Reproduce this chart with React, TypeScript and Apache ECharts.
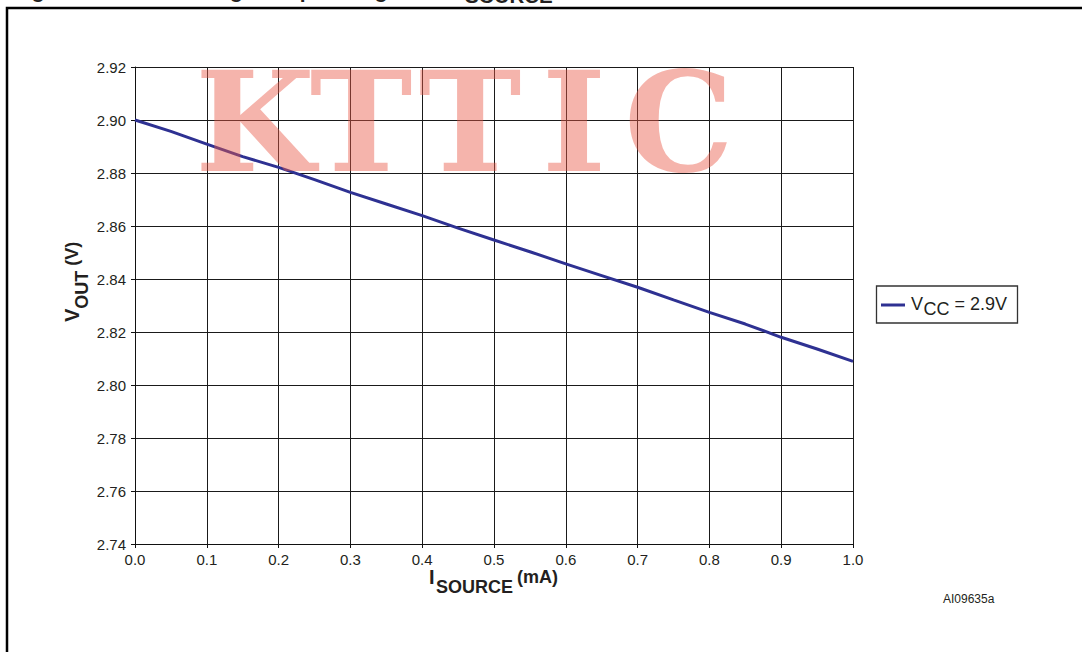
import React, { useEffect, useRef } from "react";
import * as echarts from "echarts";

const isource = [0, 0.05, 0.1, 0.15, 0.2, 0.25, 0.3, 0.35, 0.4, 0.45, 0.5, 0.55, 0.6, 0.65, 0.7, 0.75, 0.8, 0.85, 0.9, 0.95, 1.0];
const vout = [2.9, 2.8957, 2.8909, 2.8862, 2.8821, 2.8775, 2.8727, 2.8683, 2.8639, 2.8592, 2.8547, 2.8503, 2.8457, 2.8413, 2.8369, 2.8321, 2.8274, 2.823, 2.818, 2.8136, 2.8089];
const seriesName = "VCC = 2.9V";
const yMin = 2.74;
const yMax = 2.92;
const yStep = 0.02;
const xMin = 0;
const xMax = 1;
const xStep = 0.1;
const watermarkLetters = ["K", "T", "T", "I", "C"];

const SANS = "'Liberation Sans', Arial, Helvetica, sans-serif";
const LINE_COLOR = "#2e3192";
const TEXT_COLOR = "#231f20";

function txt(text: string, x: number, y: number, size: number, bold: boolean, extra: any = {}) {
  return {
    type: "text",
    x,
    y,
    z: 50,
    silent: true,
    ...extra,
    style: {
      text,
      font: `${bold ? "bold " : ""}${size}px ${SANS}`,
      fill: TEXT_COLOR,
      textAlign: "left",
      textVerticalAlign: "middle",
      align: "left",
      verticalAlign: "middle",
    },
  };
}

export default function App() {
  const ref = useRef<HTMLDivElement>(null);
  useEffect(() => {
    if (!ref.current) return;
    const chart = echarts.init(ref.current, undefined, { renderer: "svg" });
    const data = isource.map((x, i) => [x, vout[i]]);
    const wmCenters = [255, 361, 470, 574, 679];
    const watermark = watermarkLetters.map((ch, i) => ({
      type: "text",
      x: wmCenters[i],
      y: 122,
      z: 100,
      silent: true,
      style: {
        text: ch,
        font: "bold 138px 'DejaVu Serif', 'Courier New', serif",
        fill: "rgba(233,88,71,0.45)",
        textAlign: "center",
        textVerticalAlign: "middle",
        align: "center",
        verticalAlign: "middle",
      },
    }));
    chart.setOption({
      animation: false,
      backgroundColor: "#ffffff",
      grid: { left: 135, right: 229, top: 67, bottom: 108, containLabel: false },
      xAxis: {
        type: "value",
        min: xMin,
        max: xMax,
        interval: xStep,
        axisLine: { show: true, lineStyle: { color: "#111", width: 1 } },
        axisTick: { show: true, length: 4, inside: false, lineStyle: { color: "#111" } },
        axisLabel: {
          margin: 8,
          fontSize: 15,
          fontFamily: SANS,
          color: TEXT_COLOR,
          formatter: (v: number) => v.toFixed(1),
        },
        splitLine: { show: true, lineStyle: { color: "#1a1a1a", width: 1 } },
      },
      yAxis: {
        type: "value",
        min: yMin,
        max: yMax,
        interval: yStep,
        axisLine: { show: true, lineStyle: { color: "#111", width: 1 } },
        axisTick: { show: true, length: 4, inside: false, lineStyle: { color: "#111" } },
        axisLabel: {
          margin: 9,
          fontSize: 15,
          fontFamily: SANS,
          color: TEXT_COLOR,
          formatter: (v: number) => v.toFixed(2),
        },
        splitLine: { show: true, lineStyle: { color: "#1a1a1a", width: 1 } },
      },
      series: [
        {
          name: seriesName,
          type: "line",
          data,
          showSymbol: false,
          symbol: "none",
          lineStyle: { color: LINE_COLOR, width: 3 },
          itemStyle: { color: LINE_COLOR },
          z: 3,
        },
      ],
      graphic: [
        {
          type: "rect",
          z: 1,
          silent: true,
          shape: { x: 7, y: 8, width: 1300, height: 900 },
          style: { fill: "none", stroke: "#000", lineWidth: 2.5 },
        },
        // cropped caption at the top
        txt("Figure 10. Reset voltage", 13, -10, 21, true),
        txt("output", 267, -10, 21, true),
        txt("against I", 363, -10, 21, true),
        txt("SOURCE", 465, -5, 20.5, true),
        // y axis title
        txt("V", 72, 322, 20, true, { rotation: Math.PI / 2 }),
        txt("OUT", 82, 308.7, 18, true, { rotation: Math.PI / 2 }),
        txt(" (V)", 72, 270.7, 18, true, { rotation: Math.PI / 2 }),
        // x axis title
        txt("I", 429, 577, 20, true),
        txt("SOURCE", 436, 587, 18, true),
        txt("(mA)", 517, 577, 18, true),
        // legend
        {
          type: "rect",
          z: 40,
          silent: true,
          shape: { x: 876.5, y: 286, width: 141, height: 37 },
          style: { fill: "#fff", stroke: "#333", lineWidth: 1.3 },
        },
        {
          type: "line",
          z: 41,
          silent: true,
          shape: { x1: 881, y1: 305, x2: 905, y2: 305 },
          style: { stroke: LINE_COLOR, lineWidth: 3 },
        },
        txt("V", 911, 303.5, 18, false),
        txt("CC", 923.5, 309, 18, false),
        txt(" = 2.9V", 949.5, 303.5, 18, false),
        // figure code
        txt("AI09635a", 943, 599, 12, false),
        // watermark
        ...watermark,
      ],
    });
    return () => chart.dispose();
  }, []);
  return (
    <div
      ref={ref}
      style={{ position: "fixed", left: 0, top: 0, width: 1082, height: 652, background: "#fff" }}
    />
  );
}
